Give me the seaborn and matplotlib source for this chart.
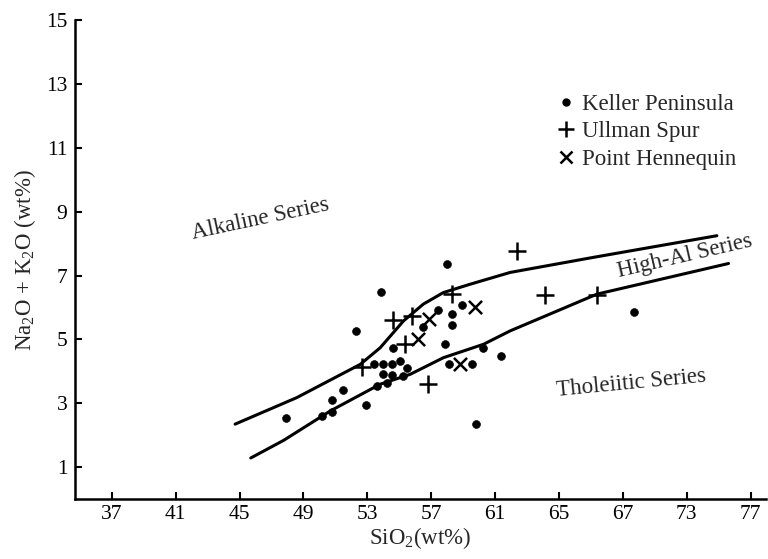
import pandas as pd
import seaborn as sns
import matplotlib.pyplot as plt
from matplotlib.lines import Line2D

keller_sio2 = [57.98, 53.84, 52.30, 57.45, 58.29, 58.95, 58.29, 56.47, 54.63, 57.87,
               53.42, 54.01, 54.53, 55.05, 55.47, 54.01, 54.57, 55.20, 53.59, 54.26,
               58.08, 59.58, 60.21, 61.36, 51.46, 50.81, 50.15, 50.81, 52.92, 47.90,
               59.79, 69.71]
keller_alk = [7.36, 6.50, 5.27, 5.93, 5.81, 6.08, 5.46, 5.39, 4.73, 4.87,
              4.24, 4.24, 4.22, 4.33, 4.10, 3.93, 3.89, 3.86, 3.54, 3.65,
              4.22, 4.24, 4.74, 4.48, 3.42, 3.12, 2.60, 2.74, 2.94, 2.55,
              2.34, 5.87]

ullman_sio2 = [54.63, 55.79, 58.29, 55.37, 52.65, 56.82, 62.36, 64.13, 67.37]
ullman_alk = [5.61, 5.74, 6.42, 4.87, 4.14, 3.61, 7.78, 6.40, 6.40]

hennequin_sio2 = [56.89, 56.20, 59.71, 58.81]
hennequin_alk = [5.65, 5.03, 6.03, 4.24]

# Curvas limite
upper_sio2 = [44.72, 48.58, 52.55, 53.80, 55.26, 56.51, 57.76, 59.43, 61.94, 67.13, 74.88]
upper_alk = [2.35, 3.18, 4.22, 4.74, 5.58, 6.11, 6.47, 6.73, 7.10, 7.57, 8.25]
lower_sio2 = [45.70, 47.75, 50.67, 53.80, 55.68, 57.76, 60.27, 61.94, 67.37, 75.61]
lower_alk = [1.29, 1.84, 2.76, 3.60, 3.91, 4.43, 4.85, 5.27, 6.42, 7.38]

xtick_pos = [37, 41, 45, 49, 53, 57, 61, 65, 69, 73, 77]
xtick_labels = ["37", "41", "45", "49", "53", "57", "61", "65", "67", "73", "77"]
ytick_pos = [1, 3, 5, 7, 9, 11, 13, 15]

sns.set_style("ticks")
plt.rcParams['font.family'] = ['Liberation Serif', 'DejaVu Serif']
plt.rcParams['mathtext.fontset'] = 'custom'
plt.rcParams['mathtext.rm'] = 'Liberation Serif'
plt.rcParams['mathtext.it'] = 'Liberation Serif:italic'

fig = plt.figure(figsize=(7.68, 5.59), dpi=100)
ax = fig.add_axes([0.0977, 0.107, 0.9, 0.857])

sns.lineplot(x=upper_sio2, y=upper_alk, sort=False, estimator=None, color="black", lw=2.2, ax=ax)
sns.lineplot(x=lower_sio2, y=lower_alk, sort=False, estimator=None, color="black", lw=2.2, ax=ax)

sns.scatterplot(x=keller_sio2, y=keller_alk, marker="o", s=32, color="black", edgecolor="black", ax=ax)
sns.scatterplot(x=ullman_sio2, y=ullman_alk, marker="+", s=160, color="black", linewidth=1.8, ax=ax)
sns.scatterplot(x=hennequin_sio2, y=hennequin_alk, marker="x", s=90, color="black", linewidth=1.8, ax=ax)

ax.text(46.3, 8.78, "Alkaline Series", rotation=12, ha="center", va="center", fontsize=16.5)
ax.text(72.9, 7.62, "High-Al Series", rotation=13, ha="center", va="center", fontsize=16.5)
ax.text(69.5, 3.64, "Tholeiitic Series", rotation=5.5, ha="center", va="center", fontsize=16.5)

handles = [
    Line2D([], [], marker="o", ls="", color="black", markersize=5),
    Line2D([], [], marker="+", ls="", color="black", markersize=12, mew=1.8),
    Line2D([], [], marker="x", ls="", color="black", markersize=8, mew=1.8),
]
ax.legend(handles, ["Keller Peninsula", "Ullman Spur", "Point Hennequin"],
          loc="upper left", bbox_to_anchor=(0.68, 0.87), frameon=False,
          fontsize=16.5, handlelength=0.8, handletextpad=0.3, labelspacing=0.28, borderpad=0)

ax.set_xlim(34.7, 77.97)
ax.set_ylim(0, 15)
ax.set_xticks(xtick_pos)
ax.set_xticklabels(xtick_labels)
ax.set_yticks(ytick_pos)
ax.tick_params(direction="in", length=5, width=1.5, labelsize=15.5, colors="black")
ax.tick_params(axis="y", pad=5.5)
ax.tick_params(axis="x", pad=4)
for side in ["left", "bottom"]:
    ax.spines[side].set_linewidth(1.8)
    ax.spines[side].set_color("black")
sns.despine(ax=ax)

ax.set_xlabel("SiO$_2$(wt%)", fontsize=16.5, labelpad=1)
ax.set_ylabel("Na$_2$O + K$_2$O (wt%)", fontsize=16.5, labelpad=6)

plt.savefig("out.png", dpi=100)
